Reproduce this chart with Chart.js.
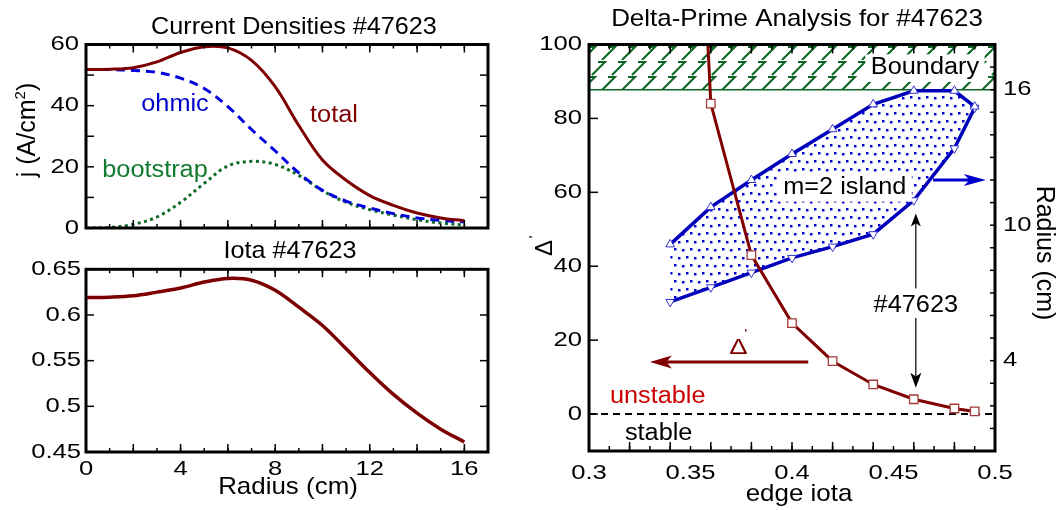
<!DOCTYPE html>
<html>
<head>
<meta charset="utf-8">
<script src="https://cdn.jsdelivr.net/npm/chart.js@4"></script>
<style>
body { margin: 0; background: #fff; width: 1061px; height: 510px; overflow: hidden; position: relative; }
canvas { position: absolute; }
</style>
</head>
<body>
<canvas id="cur" width="500" height="240" style="left:0;top:0"></canvas>
<canvas id="iota" width="500" height="270" style="left:0;top:240px"></canvas>
<canvas id="dp" width="551" height="510" style="left:510px;top:0"></canvas>
<script>
// current density profiles vs radius (cm)
const radius = [0, 1, 2, 3, 4, 5, 6, 7, 8, 9, 10, 11, 12, 13, 14, 15, 16];
const jTotal = [51.8, 51.9, 52.4, 54.3, 57.4, 59.3, 58.9, 54.8, 46.2, 33.5, 22.2, 15.6, 10.6, 7.4, 4.9, 3.3, 2.4];
const jOhmic = [51.8, 51.8, 51.5, 50.9, 49.0, 45.6, 39.7, 32.2, 25.2, 18.0, 12.3, 8.8, 6.5, 4.7, 3.3, 2.5, 2.0];
const jBootstrap = [0, 0.2, 1.2, 3.6, 8.4, 14.6, 20.3, 21.8, 20.8, 17.2, 12.2, 8.4, 6.0, 4.2, 2.7, 1.6, 1.0];
const iotaProfile = [0.619, 0.6195, 0.621, 0.625, 0.6295, 0.636, 0.640, 0.638, 0.627, 0.6085, 0.5885, 0.563, 0.537, 0.513, 0.4925, 0.475, 0.461];

// delta-prime scan vs edge iota
const edgeIota = [0.3575, 0.36, 0.38, 0.40, 0.42, 0.44, 0.46, 0.48, 0.49];
const deltaPrime = [112, 84, 43, 24.6, 14.3, 8, 4, 1.5, 0.7];
const islandIota = [0.34, 0.36, 0.38, 0.40, 0.42, 0.44, 0.46, 0.48, 0.49];
const islandOuter = [9.15, 10.8, 12.0, 13.15, 14.25, 15.35, 15.95, 15.95, 15.25];
const islandInner = [6.6, 7.25, 7.9, 8.55, 9.05, 9.6, 11.1, 13.4, 15.2];
const boundaryRadius = 16;

// tick labels
const jTickLabels = ['0', '20', '40', '60'];
const radiusTickLabels = ['0', '4', '8', '12', '16'];
const iotaTickLabels = ['0.45', '0.5', '0.55', '0.6', '0.65'];
const edgeIotaTickLabels = ['0.3', '0.35', '0.4', '0.45', '0.5'];
const deltaTickLabels = ['0', '20', '40', '60', '80', '100'];
const islandRadiusTickLabels = ['4', '10', '16'];

const FONT = '"Liberation Sans", Arial, sans-serif';
const DARKRED = '#7d0000';
const BLUE = '#0000dd';
const GREEN = '#0b6a25';

const pts = (xs, ys) => xs.map((x, i) => ({ x: x, y: ys[i] }));

function txt(ctx, s, x, y, o) {
    o = o || {};
    const size = o.size || 22;
    ctx.save();
    ctx.translate(x, y);
    if (o.rot) ctx.rotate(o.rot);
    ctx.scale(o.sx || 1, 1);
    ctx.font = size + 'px ' + FONT;
    ctx.textAlign = o.align || 'center';
    ctx.textBaseline = 'middle';
    if (o.bg) {
        const w = ctx.measureText(s).width;
        const x0 = o.align === 'left' ? 0 : o.align === 'right' ? -w : -w / 2;
        ctx.fillStyle = o.bg;
        ctx.fillRect(x0 - 5, -size * 0.6, w + 10, size * 1.2);
    }
    ctx.fillStyle = o.color || '#000';
    ctx.fillText(s, 0, 0);
    ctx.restore();
}

function arrow(ctx, x0, y0, x1, y1, color, lw, hl, hw) {
    const ang = Math.atan2(y1 - y0, x1 - x0);
    ctx.save();
    ctx.strokeStyle = color;
    ctx.fillStyle = color;
    ctx.lineWidth = lw;
    ctx.beginPath();
    ctx.moveTo(x0, y0);
    ctx.lineTo(x1 - hl * 0.7 * Math.cos(ang), y1 - hl * 0.7 * Math.sin(ang));
    ctx.stroke();
    ctx.translate(x1, y1);
    ctx.rotate(ang);
    ctx.beginPath();
    ctx.moveTo(0, 0);
    ctx.lineTo(-hl, hw / 2);
    ctx.lineTo(-hl * 0.75, 0);
    ctx.lineTo(-hl, -hw / 2);
    ctx.closePath();
    ctx.fill();
    ctx.restore();
}

// inward ticks, thick box and tick labels
function frame(spec) {
    return {
        id: 'frame',
        afterDatasetsDraw(chart) {
            const ctx = chart.ctx, a = chart.chartArea;
            ctx.save();
            ctx.strokeStyle = '#000';
            ctx.lineWidth = 1.5;
            spec.ticks.forEach(t => {
                const s = chart.scales[t.scale];
                const n0 = Math.ceil(s.min / t.step - 1e-6), n1 = Math.floor(s.max / t.step + 1e-6);
                for (let n = n0; n <= n1; n++) {
                    const p = s.getPixelForValue(n * t.step);
                    ctx.beginPath();
                    if (t.edge === 'bottom') { ctx.moveTo(p, a.bottom); ctx.lineTo(p, a.bottom - t.len); }
                    if (t.edge === 'top') { ctx.moveTo(p, a.top); ctx.lineTo(p, a.top + t.len); }
                    if (t.edge === 'left') { ctx.moveTo(a.left, p); ctx.lineTo(a.left + t.len, p); }
                    if (t.edge === 'right') { ctx.moveTo(a.right, p); ctx.lineTo(a.right - t.len, p); }
                    ctx.stroke();
                }
            });
            ctx.lineWidth = 3;
            ctx.strokeRect(a.left, a.top, a.right - a.left, a.bottom - a.top);
            ctx.restore();

            spec.labels.forEach(l => {
                const s = chart.scales[l.scale];
                l.texts.forEach(str => {
                    const p = s.getPixelForValue(parseFloat(str));
                    const o = { size: 21, sx: 1.22 };
                    if (l.edge === 'left') { o.align = 'right'; txt(ctx, str, a.left - l.gap, p, o); }
                    if (l.edge === 'right') { o.align = 'left'; txt(ctx, str, a.right + l.gap, p, o); }
                    if (l.edge === 'bottom') txt(ctx, str, p, a.bottom + l.gap, o);
                });
            });
            if (spec.extra) spec.extra(chart, ctx, a);
        }
    };
}

function baseOptions(padding) {
    return {
        responsive: false,
        animation: false,
        devicePixelRatio: 1,
        layout: { padding: padding },
        elements: { point: { radius: 0 }, line: { fill: false } },
        plugins: { legend: { display: false }, tooltip: { enabled: false } }
    };
}

function xyTicks(xMinor, xMajor, xLen, yScale, yStep) {
    return [
        { scale: 'x', edge: 'bottom', step: xMinor, len: 4 },
        { scale: 'x', edge: 'bottom', step: xMajor, len: xLen },
        { scale: 'x', edge: 'top', step: xMinor, len: 4 },
        { scale: 'x', edge: 'top', step: xMajor, len: xLen },
        { scale: yScale, edge: 'left', step: yStep, len: 8 },
        { scale: yScale, edge: 'right', step: yStep, len: 8 }
    ];
}

// ---------- Current densities ----------
const curOpts = baseOptions({ left: 86, right: 12, top: 44.5, bottom: 12 });
curOpts.elements.line.tension = 0.35;
curOpts.scales = {
    x: { type: 'linear', min: 0, max: 17, display: false },
    y: { type: 'linear', min: 0, max: 60, display: false }
};
new Chart(document.getElementById('cur'), {
    type: 'line',
    data: {
        datasets: [
            { data: pts(radius, jTotal), borderColor: DARKRED, borderWidth: 3 },
            { data: pts(radius, jOhmic), borderColor: BLUE, borderWidth: 3, borderDash: [9, 6] },
            { data: pts(radius, jBootstrap), borderColor: GREEN, borderWidth: 3, borderDash: [3, 3.5] }
        ]
    },
    options: curOpts,
    plugins: [frame({
        ticks: xyTicks(1, 2, 8, 'y', 10),
        labels: [{ scale: 'y', edge: 'left', texts: jTickLabels, gap: 7 }],
        extra(chart, ctx) {
            txt(ctx, 'Current Densities #47623', 294, 27, { size: 24, sx: 1.05 });
            txt(ctx, 'ohmic', 175, 105, { size: 23, sx: 1.1, color: '#0000cc' });
            txt(ctx, 'total', 334, 116, { size: 23, sx: 1.1, color: '#800000' });
            txt(ctx, 'bootstrap', 155, 171, { size: 23, sx: 1.1, color: '#127a2e' });
            // y title with superscript
            ctx.save();
            ctx.translate(26, 130);
            ctx.rotate(-Math.PI / 2);
            ctx.font = '25px ' + FONT;
            const a1 = 'j (A/cm', a2 = '2', a3 = ')';
            const w1 = ctx.measureText(a1).width, w3 = ctx.measureText(a3).width;
            ctx.font = '15px ' + FONT;
            const w2 = ctx.measureText(a2).width;
            let x = -(w1 + w2 + w3) / 2;
            ctx.textBaseline = 'alphabetic';
            ctx.fillStyle = '#000';
            ctx.font = '25px ' + FONT;
            ctx.fillText(a1, x, 9);
            ctx.font = '15px ' + FONT;
            ctx.fillText(a2, x + w1, -1);
            ctx.font = '25px ' + FONT;
            ctx.fillText(a3, x + w1 + w2, 9);
            ctx.restore();
        }
    })]
});

// ---------- Iota profile ----------
const iotaOpts = baseOptions({ left: 86, right: 12, top: 29.3, bottom: 58 });
iotaOpts.elements.line.tension = 0.35;
iotaOpts.scales = {
    x: { type: 'linear', min: 0, max: 17, display: false },
    y: { type: 'linear', min: 0.45, max: 0.65, display: false }
};
new Chart(document.getElementById('iota'), {
    type: 'line',
    data: { datasets: [{ data: pts(radius, iotaProfile), borderColor: DARKRED, borderWidth: 3.5 }] },
    options: iotaOpts,
    plugins: [frame({
        ticks: xyTicks(1, 2, 8, 'y', 0.05),
        labels: [
            { scale: 'y', edge: 'left', texts: iotaTickLabels, gap: 5 },
            { scale: 'x', edge: 'bottom', texts: radiusTickLabels, gap: 17 }
        ],
        extra(chart, ctx) {
            txt(ctx, 'Iota #47623', 290, 11, { size: 24, sx: 1.05 });
            txt(ctx, 'Radius (cm)', 288, 247, { size: 24, sx: 1.08 });
        }
    })]
});

// ---------- Delta-prime analysis ----------
function dotPattern() {
    const c = document.createElement('canvas');
    c.width = 16; c.height = 16;
    const g = c.getContext('2d');
    g.fillStyle = '#0000dd';
    [[0, 0], [8, 1], [4, 8], [12, 9]].forEach(p => g.fillRect(p[0], p[1], 2.5, 2.5));
    return g.createPattern(c, 'repeat');
}

function hatchPattern() {
    const c = document.createElement('canvas');
    c.width = 20; c.height = 30;
    const g = c.getContext('2d');
    g.strokeStyle = '#0b6623';
    g.lineWidth = 2;
    [[0, 0], [10, 15]].forEach(o => {
        [-20, 0, 20].forEach(dx => {
            const ox = o[0] + dx, oy = o[1];
            g.beginPath();
            g.moveTo(ox + 8, oy + 2);
            g.lineTo(ox + 15, oy + 2);
            g.lineTo(ox + 2, oy + 15);
            g.stroke();
        });
    });
    return g.createPattern(c, 'repeat');
}

const dpOpts = baseOptions({ left: 79, right: 66, top: 44.5, bottom: 59 });
dpOpts.scales = {
    x: { type: 'linear', min: 0.3, max: 0.5, display: false },
    y: { type: 'linear', min: -10, max: 100, display: false },
    y2: { type: 'linear', position: 'right', min: 0, max: 18, display: false }
};
new Chart(document.getElementById('dp'), {
    type: 'line',
    data: {
        datasets: [
            {
                data: pts(edgeIota, deltaPrime), borderColor: '#800000', borderWidth: 3,
                pointRadius: edgeIota.map((v, i) => i === 0 ? 0 : 6), pointStyle: 'rect',
                pointBackgroundColor: '#fff', pointBorderColor: '#a33b3b', pointBorderWidth: 1.3
            },
            {
                data: pts(islandIota, islandOuter), yAxisID: 'y2', borderColor: '#0000bb', borderWidth: 3.5,
                pointRadius: 5, pointStyle: 'triangle',
                pointBackgroundColor: '#fff', pointBorderColor: '#3535d0', pointBorderWidth: 1
            },
            {
                data: pts(islandIota, islandInner), yAxisID: 'y2', borderColor: '#0000bb', borderWidth: 3.5,
                pointRadius: 5, pointStyle: 'triangle', pointRotation: 180,
                pointBackgroundColor: '#fff', pointBorderColor: '#3535d0', pointBorderWidth: 1,
                fill: '-1', backgroundColor: dotPattern()
            },
            {
                data: pts([0.3, 0.5], [0, 0]), borderColor: '#000', borderWidth: 2, borderDash: [7, 5]
            },
            {
                data: pts([0.3, 0.5], [boundaryRadius, boundaryRadius]), yAxisID: 'y2',
                borderColor: '#0b6623', borderWidth: 1.5, fill: 'end', backgroundColor: hatchPattern()
            }
        ]
    },
    options: dpOpts,
    plugins: [frame({
        ticks: [
            { scale: 'x', edge: 'bottom', step: 0.01, len: 5 },
            { scale: 'x', edge: 'bottom', step: 0.02, len: 9 },
            { scale: 'x', edge: 'top', step: 0.01, len: 5 },
            { scale: 'x', edge: 'top', step: 0.02, len: 9 },
            { scale: 'y', edge: 'left', step: 20, len: 9 },
            { scale: 'y2', edge: 'right', step: 1, len: 5 }
        ],
        labels: [
            { scale: 'y', edge: 'left', texts: deltaTickLabels, gap: 7 },
            { scale: 'x', edge: 'bottom', texts: edgeIotaTickLabels, gap: 22 },
            { scale: 'y2', edge: 'right', texts: islandRadiusTickLabels, gap: 8 }
        ],
        extra(chart, ctx) {
            const X = v => chart.scales.x.getPixelForValue(v);
            const Y = v => chart.scales.y.getPixelForValue(v);
            const R = v => chart.scales.y2.getPixelForValue(v);

            txt(ctx, 'Delta-Prime Analysis for #47623', 287, 19, { size: 24, sx: 1.08 });
            txt(ctx, 'edge iota', 289, 494, { size: 24, sx: 1.08 });
            txt(ctx, 'Radius (cm)', 534, 253, { size: 25, rot: Math.PI / 2 });

            // left title: Delta prime, rotated
            ctx.save();
            ctx.translate(33, 248);
            ctx.rotate(-Math.PI / 2);
            ctx.fillStyle = '#000';
            ctx.textBaseline = 'middle';
            ctx.textAlign = 'center';
            ctx.font = '24px ' + FONT;
            ctx.fillText('\u0394', 0, 2);
            ctx.font = '14px ' + FONT;
            ctx.fillText('\'', 11, -8);
            ctx.restore();

            txt(ctx, 'Boundary', X(0.4655), Y(93.6), { size: 23, sx: 1.1, bg: '#fff' });
            txt(ctx, 'm=2 island', X(0.426), Y(61.2), { size: 23, sx: 1.1, bg: '#fff' });
            txt(ctx, '#47623', X(0.461), Y(29.3), { size: 23, sx: 1.1 });
            txt(ctx, 'unstable', X(0.3103), Y(4.6), { size: 23, sx: 1.1, align: 'left', color: '#cc0000' });
            txt(ctx, 'stable', X(0.3177), Y(-5.4), { size: 23, sx: 1.1, align: 'left' });

            // Delta' arrow label
            arrow(ctx, X(0.408), Y(14.1), X(0.330), Y(14.1), '#800000', 3, 22, 13);
            ctx.save();
            ctx.translate(X(0.3736), Y(18));
            ctx.scale(1.25, 1);
            ctx.fillStyle = '#800000';
            ctx.textAlign = 'center';
            ctx.textBaseline = 'middle';
            ctx.font = '22px ' + FONT;
            ctx.fillText('\u0394', 0, 0);
            ctx.font = '13px ' + FONT;
            ctx.fillText('\'', 6, -13);
            ctx.restore();

            // island -> radius axis
            arrow(ctx, X(0.4695), R(12), X(0.4955), R(12), '#0000cc', 3, 22, 12);
            // shot markers
            arrow(ctx, X(0.461), Y(34), X(0.461), Y(54.3), '#000', 1.2, 13, 10);
            arrow(ctx, X(0.461), Y(26), X(0.461), Y(7.1), '#000', 1.2, 15, 11);
        }
    })]
});
</script>
</body>
</html>
